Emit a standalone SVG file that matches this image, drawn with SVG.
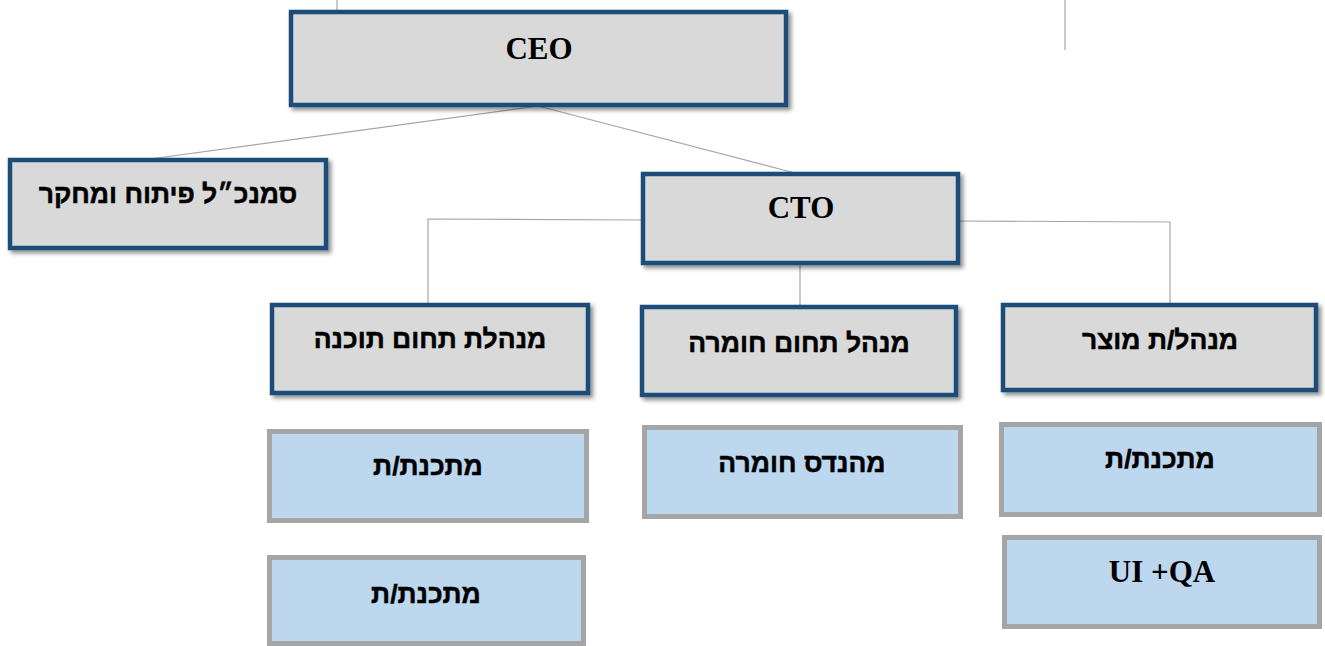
<svg xmlns="http://www.w3.org/2000/svg" width="1325" height="646" viewBox="0 0 1325 646">
<defs>
<filter id="sh" x="-5%" y="-10%" width="115%" height="130%">
<feDropShadow dx="3" dy="3" stdDeviation="2" flood-color="#000" flood-opacity="0.45"/>
</filter>
<style>
.mgr{fill:#d9d9d9;stroke:#1f4e79;stroke-width:4.5;filter:url(#sh)}
.emp{fill:#bdd7ee;stroke:#a5a5a5;stroke-width:5}
.con{fill:none;stroke:#a6a6a6;stroke-width:1.2}
.he{font-family:"Liberation Sans","DejaVu Sans",sans-serif;font-weight:bold;font-size:26.5px;fill:#000;stroke:#000;stroke-width:0.5;text-anchor:middle}
.la{font-family:"Liberation Serif","Times New Roman",serif;font-weight:bold;font-size:31px;fill:#000;text-anchor:middle}
</style>
</defs>
<rect width="1325" height="646" fill="#fff"/>
<g id="connectors">
<line class="con" x1="337" y1="0" x2="337" y2="10"/>
<line class="con" x1="1065" y1="0" x2="1065" y2="50" stroke="#c8c8c8"/>
<line class="con" x1="538" y1="106" x2="150" y2="159"/>
<line class="con" x1="538" y1="106" x2="795" y2="173"/>
<polyline class="con" points="643,220 428,219 428,305"/>
<polyline class="con" points="958,221 1170,222 1170,305"/>
<line class="con" x1="800" y1="263" x2="800" y2="307"/>
</g>
<g id="ceo"><rect class="mgr" x="291" y="12" width="495" height="93"/><text class="la" x="539" y="59">CEO</text></g>
<g id="vp-rnd"><rect class="mgr" x="10" y="160" width="316" height="88"/><text class="he" x="168" y="203">סמנכ״ל פיתוח ומחקר</text></g>
<g id="cto"><rect class="mgr" x="643" y="174" width="315" height="89"/><text class="la" x="801" y="218">CTO</text></g>
<g id="sw-mgr"><rect class="mgr" x="272" y="305" width="316" height="88"/><text class="he" x="430" y="348">מנהלת תחום תוכנה</text></g>
<g id="hw-mgr"><rect class="mgr" x="642" y="307" width="314" height="88"/><text class="he" x="799" y="352">מנהל תחום חומרה</text></g>
<g id="prod-mgr"><rect class="mgr" x="1003" y="305" width="313" height="85"/><text class="he" x="1160" y="349">מנהל/ת מוצר</text></g>
<g id="sw-dev1"><rect class="emp" x="269.5" y="431.5" width="317" height="89"/><text class="he" x="428" y="475">מתכנת/ת</text></g>
<g id="sw-dev2"><rect class="emp" x="269.5" y="557.5" width="314" height="86"/><text class="he" x="426" y="603">מתכנת/ת</text></g>
<g id="hw-eng"><rect class="emp" x="644.5" y="427.5" width="316" height="89"/><text class="he" x="802" y="472">מהנדס חומרה</text></g>
<g id="prod-dev"><rect class="emp" x="1001.5" y="424.5" width="318" height="90"/><text class="he" x="1160" y="468">מתכנת/ת</text></g>
<g id="ui-qa"><rect class="emp" x="1004.5" y="537.5" width="315" height="89"/><text class="la" x="1162" y="582">UI +QA</text></g>
</svg>
